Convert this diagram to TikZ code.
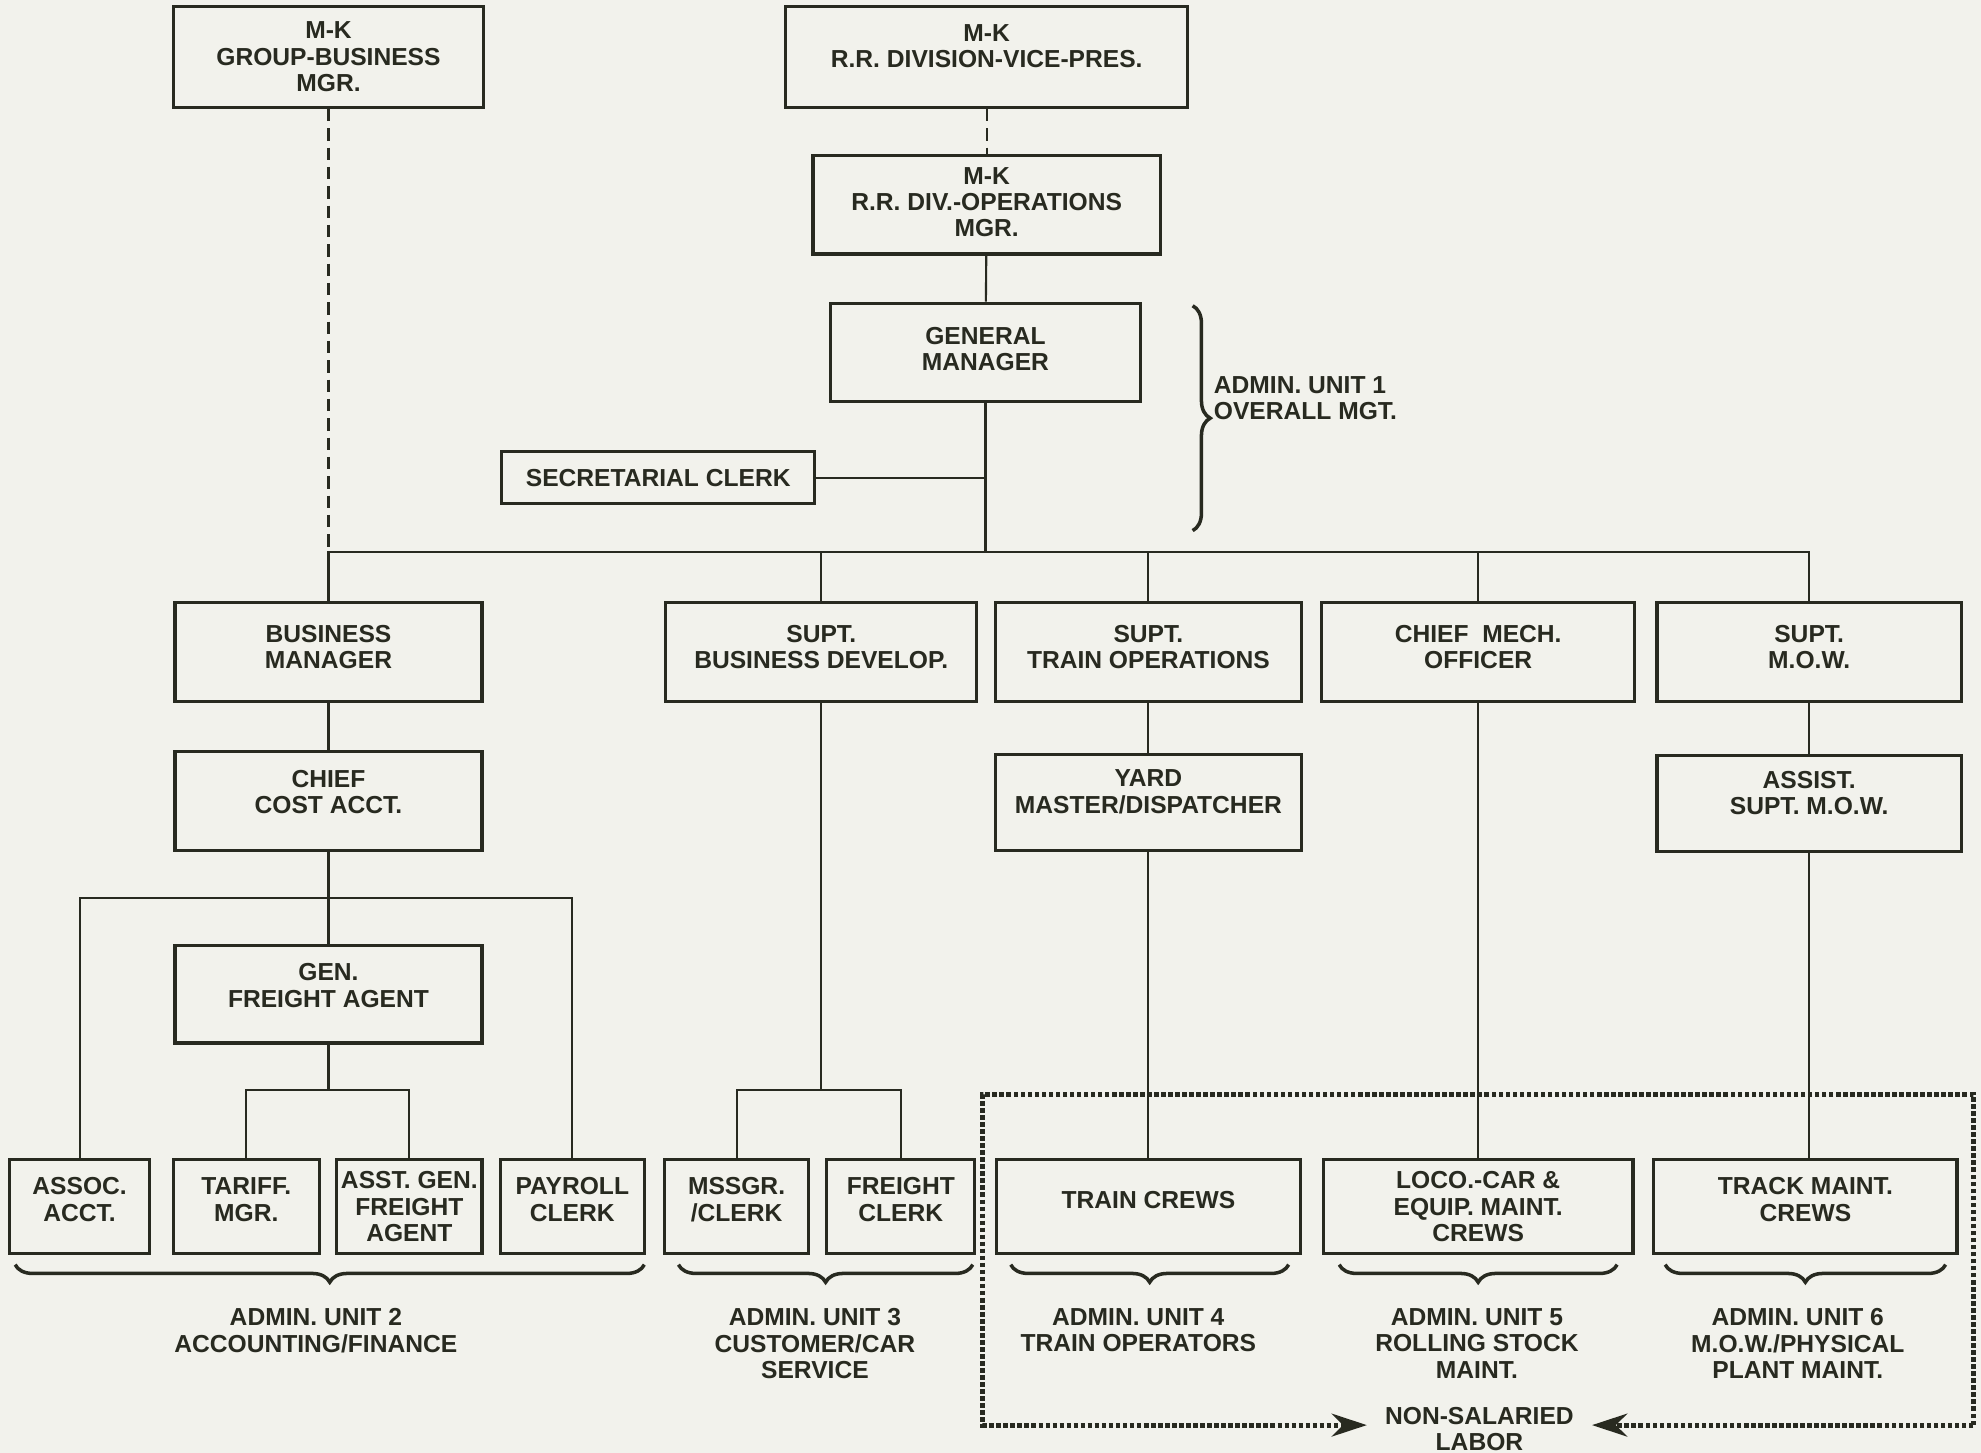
\documentclass[tikz,border=0pt]{standalone}
\usepackage{fontspec}
\setmainfont{Liberation Sans}
\usetikzlibrary{arrows.meta,decorations.pathreplacing}
\definecolor{ink}{RGB}{40,42,32}
\definecolor{paper}{RGB}{242,242,236}
\tikzset{
  post/.style={draw=ink, text=ink, line width=0.9pt, align=center, inner sep=1pt,
    font=\bfseries\fontsize{7}{7.5}\selectfont},
  boxsize/.style 2 args={minimum width=#1*0.12634mm, minimum height=#2*0.12634mm},
  lift/.style={text depth=#1},
  link/.style={draw=ink, line width=0.6pt},
  tie/.style={link, dash pattern=on 3.5pt off 2pt},
  unit/.style={text=ink, align=center, anchor=north, font=\bfseries\fontsize{7}{7.5}\selectfont},
  curly/.style={draw=ink, line width=1pt, decorate, decoration={brace, amplitude=5pt}},
  curlydown/.style={draw=ink, line width=1pt, decorate, decoration={brace, mirror, amplitude=5pt}},
  labor/.style={draw=ink, line width=1.4pt, dash pattern=on 1.3pt off 0.7pt, -{Stealth[length=10pt,width=6.5pt]}},
}
\begin{document}
\begin{tikzpicture}[x=0.12634mm, y=-0.12634mm]
\fill[paper] (0,0) rectangle (1568,1150);
\useasboundingbox (0,0) rectangle (1568,1150);
% top of the chart
\node[post, boxsize={245}{80}] (grpmgr) at (260,45) {M-K\\GROUP-BUSINESS\\MGR.};
\node[post, boxsize={318}{80}, lift=6pt] (vp) at (781,45) {M-K\\R.R. DIVISION-VICE-PRES.};
\node[post, boxsize={275}{78}, lift=1.5pt] (divops) at (781,162) {M-K\\R.R. DIV.-OPERATIONS\\MGR.};
\node[post, boxsize={245}{78}, lift=2pt] (gm) at (780,279) {GENERAL\\MANAGER};
\node[post, boxsize={248}{41}] (sec) at (521,378) {SECRETARIAL CLERK};
\coordinate (hub) at (780,437);
% department heads
\node[post, boxsize={243}{78}, lift=3pt] (bizmgr) at (260,516) {BUSINESS\\MANAGER};
\node[post, boxsize={246}{78}, lift=3pt] (supbiz) at (650,516) {SUPT.\\BUSINESS DEVELOP.};
\node[post, boxsize={242}{78}, lift=3pt] (suptrain) at (909,516) {SUPT.\\TRAIN OPERATIONS};
\node[post, boxsize={248}{78}, lift=3pt] (chiefmech) at (1170,516) {CHIEF\ \ MECH.\\OFFICER};
\node[post, boxsize={241}{78}, lift=3pt] (supmow) at (1432,516) {SUPT.\\M.O.W.};
% second level
\node[post, boxsize={243}{78}, lift=5pt] (costacct) at (260,634) {CHIEF\\COST ACCT.};
\node[post, boxsize={242}{76}, lift=6pt] (yard) at (909,635) {YARD\\MASTER/DISPATCHER};
\node[post, boxsize={241}{76}, lift=6pt] (assist) at (1432,636) {ASSIST.\\SUPT. M.O.W.};
\node[post, boxsize={243}{77}, lift=5pt] (gfa) at (260,787) {GEN.\\FREIGHT AGENT};
% bottom row
\node[post, boxsize={111}{74}, lift=4pt] (assoc) at (63,955) {ASSOC.\\ACCT.};
\node[post, boxsize={116}{74}, lift=4pt] (tariff) at (195,955) {TARIFF.\\MGR.};
\node[post, boxsize={115}{74}] (asstgen) at (324,955) {ASST. GEN.\\FREIGHT\\AGENT};
\node[post, boxsize={114}{74}, lift=4pt] (payroll) at (453,955) {PAYROLL\\CLERK};
\node[post, boxsize={114}{74}, lift=4pt] (mssgr) at (583,955) {MSSGR.\\/CLERK};
\node[post, boxsize={117}{74}, lift=4pt] (frclerk) at (713,955) {FREIGHT\\CLERK};
\node[post, boxsize={241}{74}, lift=4pt] (crews) at (909,955) {TRAIN CREWS};
\node[post, boxsize={245}{74}] (loco) at (1170,955) {LOCO.-CAR \&\\EQUIP. MAINT.\\CREWS};
\node[post, boxsize={240}{74}, lift=4pt] (track) at (1429,955) {TRACK MAINT.\\CREWS};
% connectors
\draw[tie] (vp) -- (divops);
\draw[link] (divops) -- (gm);
\draw[link] (gm.south) -- (hub);
\draw[link] (sec.east) -- (sec.east -| gm.south);
\draw[tie] (grpmgr.south) -- (grpmgr.south |- hub);
\draw[link] (bizmgr.north) |- (supmow.north |- hub) -- (supmow.north);
\draw[link] (supbiz.north) -- (supbiz.north |- hub);
\draw[link] (suptrain.north) -- (suptrain.north |- hub);
\draw[link] (chiefmech.north) -- (chiefmech.north |- hub);
\draw[link] (bizmgr) -- (costacct);
\draw[link] (costacct) -- (gfa);
\coordinate (acctbus) at (260,711);
\draw[link] (assoc.north) |- (acctbus) -| (payroll.north);
\coordinate (gfabus) at (260,863);
\draw[link] (gfa.south) -- (gfabus);
\draw[link] (tariff.north) |- (gfabus) -| (asstgen.north);
\coordinate (bizbus) at (650,863);
\draw[link] (supbiz.south) -- (bizbus);
\draw[link] (mssgr.north) |- (bizbus) -| (frclerk.north);
\draw[link] (suptrain) -- (yard);
\draw[link] (yard.south) -- (yard.south |- crews.north);
\draw[link] (chiefmech) -- (loco);
\draw[link] (supmow) -- (assist);
\draw[link] (assist.south) -- (assist.south |- track.north);
% admin units
\draw[curly] (944,242) -- (944,420);
\node[unit, anchor=west, align=left] (u1) at (951,315) {ADMIN. UNIT 1\\OVERALL MGT.};
\draw[curlydown] (12,1001) -- (510,1001);
\node[unit] (u2) at (250,1026) {ADMIN. UNIT 2\\ACCOUNTING/FINANCE};
\draw[curlydown] (537,1001) -- (770,1001);
\node[unit] (u3) at (645,1026) {ADMIN. UNIT 3\\CUSTOMER/CAR\\SERVICE};
\draw[curlydown] (800,1001) -- (1020,1001);
\node[unit] (u4) at (901,1026) {ADMIN. UNIT 4\\TRAIN OPERATORS};
\draw[curlydown] (1060,1001) -- (1280,1001);
\node[unit] (u5) at (1169,1026) {ADMIN. UNIT 5\\ROLLING STOCK\\MAINT.};
\draw[curlydown] (1318,1001) -- (1540,1001);
\node[unit] (u6) at (1423,1026) {ADMIN. UNIT 6\\M.O.W./PHYSICAL\\PLANT MAINT.};
% non-salaried labor
\node[unit, anchor=center, inner xsep=5pt] (nonsal) at (1171,1131) {NON-SALARIED\\LABOR};
\draw[labor] (1562,1128) -- (1562,866) -- (778,866) -- (778,1128) -- (nonsal.west |- 0,1128);
\draw[labor] (1562,1128) -- (nonsal.east |- 0,1128);
\end{tikzpicture}
\end{document}
